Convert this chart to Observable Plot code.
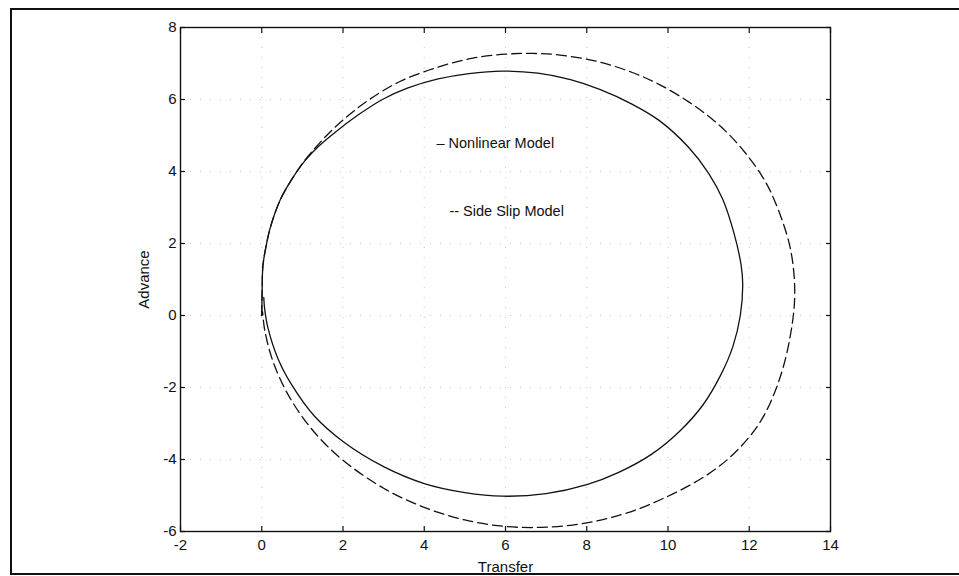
<!DOCTYPE html>
<html>
<head>
<meta charset="utf-8">
<script src="https://cdn.jsdelivr.net/npm/d3@7"></script>
<script src="https://cdn.jsdelivr.net/npm/@observablehq/plot@0.6"></script>
<style>
  html, body { margin: 0; padding: 0; background: #fff; overflow: hidden; }
  #wrap { position: relative; width: 959px; height: 576px; }
  #border { position: absolute; left: 10px; top: 8px; width: 960px; height: 563px; border: 2px solid #111; pointer-events: none; }
  svg { font-family: "Liberation Sans", Arial, sans-serif; }
</style>
</head>
<body>
<div id="wrap"><div id="border"></div></div>
<script>
// Nonlinear Model (solid)
const nonlinearX = [0.00, 0.01, 0.03, 0.12, 0.20, 0.45, 0.75, 1.05, 1.40, 1.84, 2.36, 2.97, 3.60, 4.34, 5.10, 5.93, 6.80, 7.60, 8.32, 9.10, 9.78, 10.50, 11.00, 11.35, 11.62, 11.80, 11.84, 11.78, 11.60, 11.30, 10.85, 10.30, 9.60, 8.80, 8.00, 7.00, 5.93, 5.00, 4.00, 3.00, 2.00, 1.30, 0.75, 0.40, 0.15, 0.07, 0.05];
const nonlinearY = [0.00, 0.70, 1.40, 2.00, 2.40, 3.20, 3.80, 4.28, 4.70, 5.12, 5.56, 6.00, 6.32, 6.57, 6.72, 6.79, 6.73, 6.55, 6.28, 5.88, 5.42, 4.68, 3.95, 3.22, 2.30, 1.40, 0.85, 0.00, -0.85, -1.65, -2.50, -3.20, -3.85, -4.35, -4.70, -4.95, -5.02, -4.92, -4.67, -4.20, -3.50, -2.80, -1.95, -1.20, -0.33, 0.20, 0.50];

// Side Slip Model (dashed)
const sideSlipX = [0.00, 0.01, 0.03, 0.12, 0.20, 0.45, 0.75, 1.05, 1.40, 1.72, 2.16, 2.65, 3.40, 4.34, 5.20, 6.00, 6.60, 7.30, 8.32, 9.12, 9.78, 10.50, 11.07, 11.50, 11.90, 12.30, 12.59, 13.00, 13.12, 13.02, 12.75, 12.30, 11.70, 11.00, 10.00, 9.00, 8.00, 7.00, 6.00, 5.00, 4.00, 3.00, 2.00, 1.30, 0.70, 0.30, 0.08, 0.02];
const sideSlipY = [0.00, 0.70, 1.40, 2.00, 2.40, 3.20, 3.80, 4.30, 4.76, 5.14, 5.58, 6.00, 6.50, 6.90, 7.15, 7.26, 7.28, 7.24, 7.04, 6.75, 6.42, 5.94, 5.47, 5.03, 4.52, 3.90, 3.28, 1.92, 0.65, -0.50, -1.75, -2.90, -3.75, -4.40, -5.02, -5.48, -5.76, -5.88, -5.86, -5.68, -5.33, -4.80, -4.02, -3.25, -2.30, -1.35, -0.45, 0.10];

const xTicks = [-2, 0, 2, 4, 6, 8, 10, 12, 14];
const yTicks = [-6, -4, -2, 0, 2, 4, 6, 8];
const noteText = ["– Nonlinear Model", "-- Side Slip Model"];
const noteX = [4.30, 4.62];
const noteY = [4.78, 2.90];

const solid = nonlinearX.map((x, i) => ({x, y: nonlinearY[i]}));
const dashed = sideSlipX.map((x, i) => ({x, y: sideSlipY[i]}));
const notes = noteText.map((t, i) => ({t, x: noteX[i], y: noteY[i]}));

const fmt = d => String(d);
const blank = () => "";
const T = 5; // inward tick length

const chart = Plot.plot({
  width: 959,
  height: 576,
  marginLeft: 180,
  marginRight: 129,
  marginTop: 27,
  marginBottom: 45,
  style: {fontFamily: '"Liberation Sans", Arial, sans-serif', fontSize: "15px", color: "#111", background: "transparent"},
  x: {domain: [-2, 14], ticks: xTicks},
  y: {domain: [-6, 8], ticks: yTicks},
  marks: [
    Plot.gridX(xTicks, {stroke: "#999", strokeOpacity: 0.55, strokeDasharray: "1,9"}),
    Plot.gridY(yTicks, {stroke: "#999", strokeOpacity: 0.55, strokeDasharray: "1,9"}),
    Plot.frame({stroke: "#111", strokeWidth: 1.4}),
    // inward tick marks on all four sides
    Plot.axisX(xTicks, {anchor: "bottom", tickSize: T, dy: -T, tickFormat: blank, label: null, stroke: "#111", strokeWidth: 1.2}),
    Plot.axisX(xTicks, {anchor: "top", tickSize: T, dy: T, tickFormat: blank, label: null, stroke: "#111", strokeWidth: 1.2}),
    Plot.axisY(yTicks, {anchor: "left", tickSize: T, dx: T, tickFormat: blank, label: null, stroke: "#111", strokeWidth: 1.2}),
    Plot.axisY(yTicks, {anchor: "right", tickSize: T, dx: -T, tickFormat: blank, label: null, stroke: "#111", strokeWidth: 1.2}),
    // tick labels and axis titles
    Plot.axisX(xTicks, {anchor: "bottom", tickSize: 0, tickPadding: 8, tickFormat: fmt, label: "Transfer", labelAnchor: "center", labelArrow: "none", labelOffset: 40, fontSize: 15}),
    Plot.axisY(yTicks, {anchor: "left", tickSize: 0, tickPadding: 4, tickFormat: fmt, label: "Advance", labelAnchor: "center", labelArrow: "none", labelOffset: 42, fontSize: 15}),
    Plot.line(solid, {x: "x", y: "y", stroke: "#111", strokeWidth: 1.3, curve: "catmull-rom"}),
    Plot.line(dashed, {x: "x", y: "y", stroke: "#111", strokeWidth: 1.3, strokeDasharray: "10,5", curve: "catmull-rom"}),
    Plot.text(notes, {x: "x", y: "y", text: "t", textAnchor: "start", fontSize: 14.5, fill: "#111"})
  ]
});
document.getElementById("wrap").prepend(chart);
</script>
</body>
</html>
